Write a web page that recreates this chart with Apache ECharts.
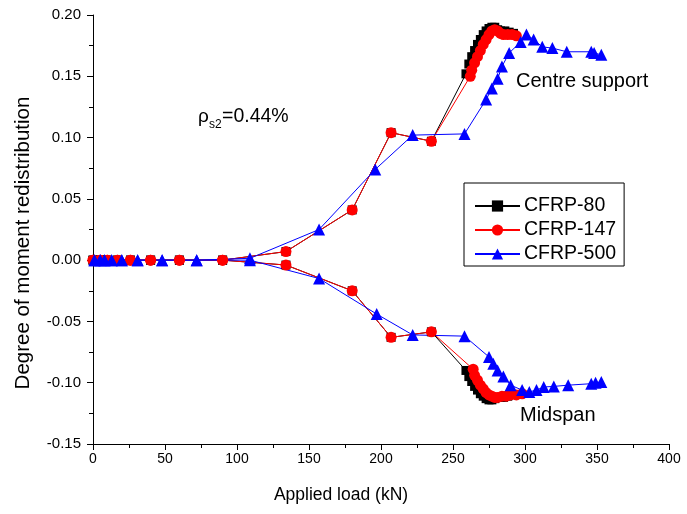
<!DOCTYPE html>
<html>
<head>
<meta charset="utf-8">
<script src="https://cdn.jsdelivr.net/npm/echarts@6/dist/echarts.min.js"></script>
<style>
  html, body { margin: 0; padding: 0; background: #fff; }
  #chart { width: 687px; height: 514px; }
</style>
</head>
<body>
<div id="chart"></div>
<script>
// Applied load (kN) and degree of moment redistribution for each specimen.
// Each specimen has a centre-support branch (positive) and a midspan branch (negative).

// CFRP-80
const load80Centre = [0, 5, 10, 17, 26, 40, 60, 90, 134, 180, 207, 235, 259, 261, 263, 265, 267, 269, 271, 273, 275, 277, 279, 281, 283, 286, 289, 292];
const deg80Centre  = [0, 0, 0, 0, 0, 0, 0, 0, 0.007, 0.041, 0.104, 0.097, 0.152, 0.160, 0.166, 0.171, 0.176, 0.180, 0.184, 0.187, 0.189, 0.190, 0.190, 0.188, 0.187, 0.187, 0.186, 0.185];
const load80Mid    = [0, 5, 10, 17, 26, 40, 60, 90, 134, 180, 207, 235, 259, 261, 263, 265, 267, 269, 271, 273, 275, 277, 279, 282, 285, 288];
const deg80Mid     = [0, 0, 0, 0, 0, 0, 0, 0, -0.004, -0.025, -0.063, -0.0585, -0.090, -0.095, -0.099, -0.103, -0.106, -0.109, -0.111, -0.113, -0.114, -0.114, -0.113, -0.112, -0.112, -0.111];

// CFRP-147
const load147Centre = [0, 5, 10, 17, 26, 40, 60, 90, 134, 180, 207, 235, 262, 263, 265, 267, 269, 271, 273, 275, 277, 279, 281, 283, 285, 288, 291, 294];
const deg147Centre  = [0, 0, 0, 0, 0, 0, 0, 0, 0.007, 0.041, 0.104, 0.097, 0.150, 0.155, 0.161, 0.166, 0.171, 0.176, 0.180, 0.184, 0.187, 0.188, 0.187, 0.185, 0.184, 0.184, 0.184, 0.183];
const load147Mid    = [0, 5, 10, 17, 26, 40, 60, 90, 134, 180, 207, 235, 264, 265, 267, 269, 271, 273, 275, 277, 279, 281, 284, 287, 290, 294, 298];
const deg147Mid     = [0, 0, 0, 0, 0, 0, 0, 0, -0.004, -0.025, -0.063, -0.0585, -0.089, -0.094, -0.098, -0.102, -0.105, -0.108, -0.110, -0.111, -0.112, -0.112, -0.111, -0.111, -0.110, -0.110, -0.109];

// CFRP-500
const load500Centre = [1, 5, 8, 13, 20, 31, 48, 72, 109, 157, 196, 222, 258, 273, 277, 281, 284, 289, 297, 301, 306, 312, 319, 329, 346, 348, 353];
const deg500Centre  = [0, 0, 0, 0, 0, 0, 0, 0, 0.0015, 0.025, 0.074, 0.102, 0.103, 0.131, 0.140, 0.148, 0.158, 0.169, 0.178, 0.184, 0.180, 0.174, 0.173, 0.170, 0.170, 0.169, 0.1675];
const load500Mid    = [1, 5, 8, 13, 20, 31, 48, 72, 109, 157, 197, 222, 258, 275, 278, 281, 285, 290, 298, 303, 308, 313, 320, 330, 346, 349, 353];
const deg500Mid     = [0, 0, 0, 0, 0, 0, 0, 0, 0, -0.015, -0.044, -0.061, -0.062, -0.079, -0.0845, -0.090, -0.095, -0.102, -0.106, -0.1075, -0.106, -0.1035, -0.103, -0.102, -0.1008, -0.100, -0.0994];

// Axis ticks
const xTicks = { min: 0, max: 400, interval: 50 };
const yTicks = { min: -0.15, max: 0.20, interval: 0.05 };

const FONT = 'Liberation Sans, Arial, Helvetica, sans-serif';

function pairs(xs, ys) { return xs.map((x, i) => [x, ys[i]]); }

function makeSeries(name, color, symbol, size, xs, ys) {
  return {
    name: name,
    type: 'line',
    data: pairs(xs, ys),
    symbol: symbol,
    symbolSize: size,
    itemStyle: { color: color },
    lineStyle: { color: color, width: 1 },
    emphasis: { disabled: true },
    animation: false
  };
}

const series = [
  makeSeries('CFRP-80', '#000000', 'rect', 9, load80Centre, deg80Centre),
  makeSeries('CFRP-80', '#000000', 'rect', 9, load80Mid, deg80Mid),
  makeSeries('CFRP-147', '#ff0000', 'circle', 11, load147Centre, deg147Centre),
  makeSeries('CFRP-147', '#ff0000', 'circle', 11, load147Mid, deg147Mid),
  makeSeries('CFRP-500', '#0000ff', 'triangle', 12, load500Centre, deg500Centre),
  makeSeries('CFRP-500', '#0000ff', 'triangle', 12, load500Mid, deg500Mid)
];

const chart = echarts.init(document.getElementById('chart'), null, { renderer: 'canvas' });

chart.setOption({
  backgroundColor: '#ffffff',
  animation: false,
  grid: { left: 93, right: 18, top: 15, bottom: 70, containLabel: false },
  xAxis: {
    type: 'value',
    min: xTicks.min, max: xTicks.max, interval: xTicks.interval,
    axisLine: { show: true, onZero: false, lineStyle: { color: '#000', width: 1 } },
    axisTick: { show: true, inside: false, length: 6, lineStyle: { color: '#000' } },
    minorTick: { show: true, splitNumber: 2, length: 4, lineStyle: { color: '#000' } },
    axisLabel: { fontFamily: FONT, fontSize: 14, color: '#000', margin: 8 },
    splitLine: { show: false }
  },
  yAxis: {
    type: 'value',
    min: yTicks.min, max: yTicks.max, interval: yTicks.interval,
    axisLine: { show: true, onZero: false, lineStyle: { color: '#000', width: 1 } },
    axisTick: { show: true, inside: false, length: 6, lineStyle: { color: '#000' } },
    minorTick: { show: true, splitNumber: 2, length: 4, lineStyle: { color: '#000' } },
    axisLabel: {
      fontFamily: FONT, fontSize: 15, color: '#000', margin: 12,
      formatter: v => v.toFixed(2)
    },
    splitLine: { show: false }
  },
  legend: {
    orient: 'vertical',
    left: 464,
    top: 183,
    data: ['CFRP-80', 'CFRP-147', 'CFRP-500'],
    itemWidth: 45,
    itemHeight: 14,
    itemGap: 4,
    padding: [13, 8, 2, 10],
    borderColor: '#000',
    borderWidth: 1,
    borderRadius: 0,
    backgroundColor: '#fff',
    selectedMode: false,
    textStyle: { fontFamily: FONT, fontSize: 19.5, color: '#000', padding: [0, 0, 0, -1] }
  },
  graphic: [
    // axis titles
    { type: 'text', x: 23, y: 243, rotation: Math.PI / 2, silent: true,
      style: { text: 'Degree of moment redistribution', fontFamily: FONT, fontSize: 20.5,
               fill: '#000', align: 'center', verticalAlign: 'middle' } },
    { type: 'text', x: 341, y: 495, silent: true,
      style: { text: 'Applied load (kN)', fontFamily: FONT, fontSize: 17.5,
               fill: '#000', align: 'center', verticalAlign: 'middle' } },
    // annotations
    { type: 'text', left: 516, top: 71, silent: true,
      style: { text: 'Centre support', fontFamily: FONT, fontSize: 20, fill: '#000' } },
    { type: 'text', left: 520, top: 405, silent: true,
      style: { text: 'Midspan', fontFamily: FONT, fontSize: 20, fill: '#000' } },
    { type: 'text', left: 198, top: 107, silent: true,
      style: { text: 'ρ', fontFamily: FONT, fontSize: 19, fill: '#000' } },
    { type: 'text', left: 209, top: 119, silent: true,
      style: { text: 's2', fontFamily: FONT, fontSize: 12, fill: '#000' } },
    { type: 'text', left: 222, top: 107, silent: true,
      style: { text: '=0.44%', fontFamily: FONT, fontSize: 19.5, fill: '#000' } }
  ],
  series: series
});
</script>
</body>
</html>
